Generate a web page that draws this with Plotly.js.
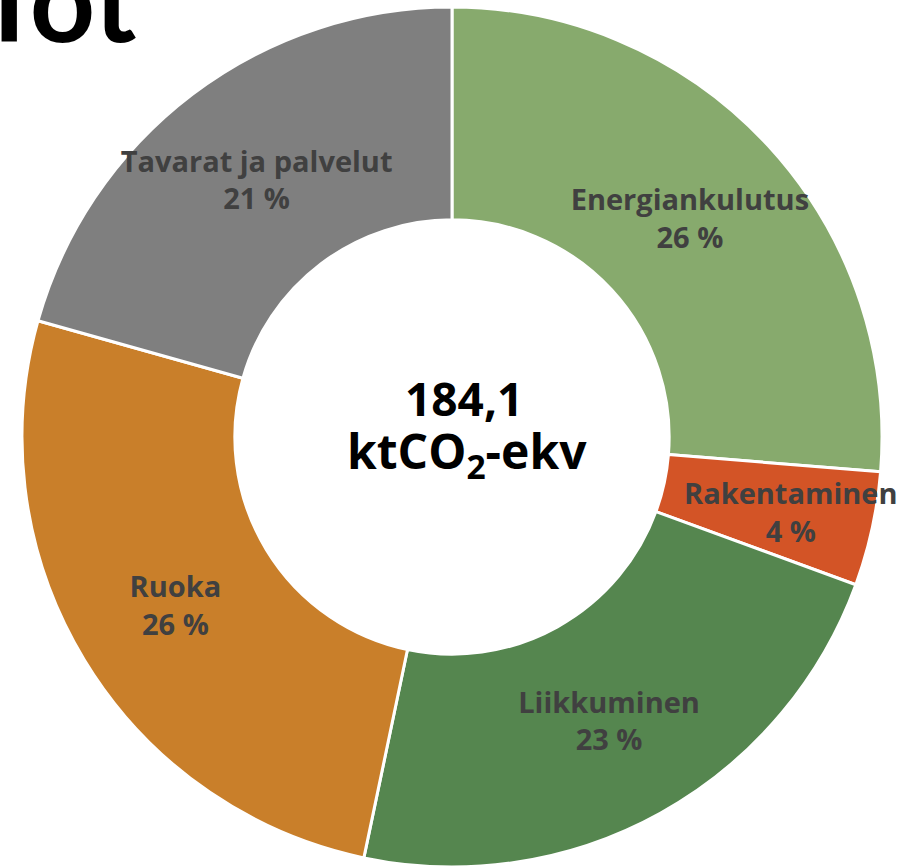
<!DOCTYPE html>
<html>
<head>
<meta charset="utf-8">
<script src="https://cdn.plot.ly/plotly-3.0.1.min.js"></script>
<style>html,body{margin:0;padding:0;background:#fff;}#chart{width:912px;height:867px;}</style>
</head>
<body>
<div id="chart"></div>
<script>
const categories = ["Energiankulutus", "Rakentaminen", "Liikkuminen", "Ruoka", "Tavarat ja palvelut"];
const values = [48.4, 7.9, 41.8, 48.0, 38.0];
const colors = ["#87aa6d", "#d35426", "#55864f", "#c97f2a", "#7f7f7f"];
const totalLabel = "184,1";
const unitLabel = "ktCO<sub>2</sub>-ekv";
const titleFragment = "Tot";

const W = 912, H = 867;
const total = values.reduce((a, b) => a + b, 0);
const pctText = values.map(v => Math.round(v / total * 100) + " %");

const LABEL_FONT = "'Open Sans', 'Noto Sans', sans-serif";
const LABEL_SIZE = 29;

// pie geometry (pixels)
const CX = 452, CY = 437, R = 430;
const domX = [(CX - R) / W, (CX + R) / W];
const domY = [(H - CY - R) / H, (H - CY + R) / H];

// slices whose label overflows the slice are labelled by an annotation
const narrow = values.map(v => v / total < 0.08);
const textpos = narrow.map(n => n ? "none" : "inside");

const labelAnns = [];
let cum = 0;
values.forEach((v, i) => {
  const mid = (cum + v / 2) / total * 2 * Math.PI; // clockwise from 12 o'clock
  cum += v;
  if (!narrow[i]) return;
  const rr = 0.807 * R;
  const px = CX + rr * Math.sin(mid);
  const py = CY - rr * Math.cos(mid);
  labelAnns.push({
    text: "<b>" + categories[i] + "</b><br><b>" + pctText[i] + "</b>",
    x: px / W, y: (H - py) / H, xref: "paper", yref: "paper",
    xanchor: "center", yanchor: "middle", showarrow: false, borderpad: 0,
    font: {family: LABEL_FONT, size: LABEL_SIZE, color: "#404040"}
  });
});

const trace = {
  type: "pie",
  labels: categories,
  values: values,
  text: pctText,
  textinfo: "text",
  texttemplate: "<b>%{label}</b><br><b>%{text}</b>",
  textposition: textpos,
  insidetextorientation: "horizontal",
  insidetextfont: {family: LABEL_FONT, size: LABEL_SIZE, color: "#404040"},
  hole: 0.505,
  sort: false,
  direction: "clockwise",
  rotation: 0,
  marker: {colors: colors, line: {color: "#ffffff", width: 3}},
  domain: {x: domX, y: domY},
  showlegend: false,
  hoverinfo: "label+percent"
};

const layout = {
  width: W,
  height: H,
  margin: {l: 0, r: 0, t: 0, b: 0},
  paper_bgcolor: "#ffffff",
  plot_bgcolor: "#ffffff",
  showlegend: false,
  uniformtext: {minsize: LABEL_SIZE, mode: "show"},
  annotations: labelAnns.concat([
    {
      text: "<b>" + totalLabel + "</b>",
      x: 464 / W, y: (H - 430) / H, xref: "paper", yref: "paper",
      xanchor: "center", yanchor: "bottom", borderpad: 0,
      showarrow: false,
      font: {family: LABEL_FONT, size: 46, color: "#000000"}
    },
    {
      text: "<b>" + unitLabel + "</b>",
      x: 467 / W, y: (H - 417) / H, xref: "paper", yref: "paper",
      xanchor: "center", yanchor: "top", borderpad: 0,
      showarrow: false,
      font: {family: LABEL_FONT, size: 48, color: "#000000"}
    },
    {
      text: "<b>" + titleFragment + "</b>",
      x: -26 / W, y: 1.0 - 67 / H, xref: "paper", yref: "paper",
      xanchor: "left", yanchor: "bottom",
      showarrow: false, borderpad: 0,
      font: {family: "Lato, sans-serif", size: 114, color: "#000000"}
    }
  ])
};

Plotly.newPlot("chart", [trace], layout, {displayModeBar: false, staticPlot: true});
</script>
</body>
</html>
